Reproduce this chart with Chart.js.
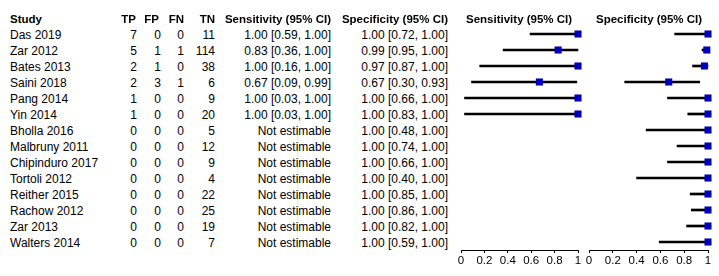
<!DOCTYPE html>
<html>
<head>
<meta charset="utf-8">
<script src="https://cdn.jsdelivr.net/npm/chart.js@4"></script>
<style>
  body { margin: 0; background: #fff; }
  #wrap { position: relative; width: 719px; height: 276px; overflow: hidden; background: #fff;
          font-family: 'Liberation Sans', Arial, sans-serif; color: #000; }
  .t { position: absolute; font-size: 12px; line-height: 16px; white-space: nowrap; }
  .h { font-weight: bold; font-size: 11.5px; }
  .r { text-align: right; }
  canvas { position: absolute; top: 0; }
</style>
</head>
<body>
<div id="wrap">
  <canvas id="sensChart" width="140" height="276" style="left:450px"></canvas>
  <canvas id="specChart" width="141" height="276" style="left:578px"></canvas>
</div>
<script>
// ---- data ----
const studies = ['Das 2019', 'Zar 2012', 'Bates 2013', 'Saini 2018', 'Pang 2014', 'Yin 2014',
  'Bholla 2016', 'Malbruny 2011', 'Chipinduro 2017', 'Tortoli 2012', 'Reither 2015',
  'Rachow 2012', 'Zar 2013', 'Walters 2014'];
const tp = [7, 5, 2, 2, 1, 1, 0, 0, 0, 0, 0, 0, 0, 0];
const fp = [0, 1, 1, 3, 0, 0, 0, 0, 0, 0, 0, 0, 0, 0];
const fn = [0, 1, 0, 1, 0, 0, 0, 0, 0, 0, 0, 0, 0, 0];
const tn = [11, 114, 38, 6, 9, 20, 5, 12, 9, 4, 22, 25, 19, 7];

const sens   = [1.00, 0.83, 1.00, 0.67, 1.00, 1.00, null, null, null, null, null, null, null, null];
const sensLo = [0.59, 0.36, 0.16, 0.09, 0.03, 0.03, null, null, null, null, null, null, null, null];
const sensHi = [1.00, 1.00, 1.00, 0.99, 1.00, 1.00, null, null, null, null, null, null, null, null];

const spec   = [1.00, 0.99, 0.97, 0.67, 1.00, 1.00, 1.00, 1.00, 1.00, 1.00, 1.00, 1.00, 1.00, 1.00];
const specLo = [0.72, 0.95, 0.87, 0.30, 0.66, 0.83, 0.48, 0.74, 0.66, 0.40, 0.85, 0.86, 0.82, 0.59];
const specHi = [1.00, 1.00, 1.00, 0.93, 1.00, 1.00, 1.00, 1.00, 1.00, 1.00, 1.00, 1.00, 1.00, 1.00];

const xTicks = ['0', '0.2', '0.4', '0.6', '0.8', '1'];

// ---- text table ----
const wrap = document.getElementById('wrap');
function addText(txt, cls, top, left, right) {
  const d = document.createElement('div');
  d.className = 't ' + cls;
  d.textContent = txt;
  d.style.top = top + 'px';
  if (right != null) { d.style.left = '0px'; d.style.width = right + 'px'; }
  else d.style.left = left + 'px';
  wrap.appendChild(d);
}
const fmtCI = (v, lo, hi) => v == null ? 'Not estimable'
  : v.toFixed(2) + ' [' + lo.toFixed(2) + ', ' + hi.toFixed(2) + ']';

addText('Study', 'h', 11, 10);
addText('TP', 'h r', 11, null, 136);
addText('FP', 'h r', 11, null, 159);
addText('FN', 'h r', 11, null, 184);
addText('TN', 'h r', 11, null, 215);
addText('Sensitivity (95% CI)', 'h r', 11, null, 331);
addText('Specificity (95% CI)', 'h r', 11, null, 448);
addText('Sensitivity (95% CI)', 'h', 11, 466);
addText('Specificity (95% CI)', 'h', 11, 596);

studies.forEach((s, i) => {
  const top = 27 + 16 * i;
  addText(s, '', top, 10);
  addText(String(tp[i]), 'r', top, null, 137);
  addText(String(fp[i]), 'r', top, null, 161);
  addText(String(fn[i]), 'r', top, null, 184);
  addText(String(tn[i]), 'r', top, null, 215);
  addText(fmtCI(sens[i], sensLo[i], sensHi[i]), 'r', top, null, 331);
  addText(fmtCI(spec[i], specLo[i], specHi[i]), 'r', top, null, 448);
});

// ---- forest plots ----
function forest(id, est, lo, hi, padRight) {
  const points = [];
  est.forEach((v, i) => { if (v != null) points.push({ x: v, y: i }); });
  const bars = lo.map((l, i) => l == null ? null : [l, hi[i]]);
  return new Chart(document.getElementById(id), {
    type: 'bar',
    data: {
      labels: studies,
      datasets: [
        {
          type: 'line', data: points, showLine: false, clip: false,
          pointStyle: 'rect', pointRadius: 5, pointHoverRadius: 5,
          pointBackgroundColor: '#0000bb', pointBorderColor: '#0000bb', pointBorderWidth: 0
        },
        {
          data: bars, backgroundColor: '#000', borderWidth: 0,
          barThickness: 2, borderSkipped: false, clip: false
        }
      ]
    },
    options: {
      indexAxis: 'y',
      responsive: false,
      animation: false,
      devicePixelRatio: 1,
      layout: { padding: { left: 11, right: padRight, top: 26, bottom: 0 } },
      plugins: { legend: { display: false }, tooltip: { enabled: false } },
      events: [],
      scales: {
        y: { type: 'category', display: false, offset: true },
        x: {
          type: 'linear', min: 0, max: 1,
          afterFit: s => { s.height = 26; },
          border: { display: true, color: '#000', width: 1 },
          grid: { drawOnChartArea: false, drawTicks: true, tickLength: 3, color: '#000' },
          ticks: {
            stepSize: 0.2, padding: 1, color: '#000', maxRotation: 0, autoSkip: false,
            font: { family: "'Liberation Sans', Arial, sans-serif", size: 11.5 },
            callback: (v, i) => xTicks[i]
          }
        }
      }
    }
  });
}

forest('sensChart', sens, sensLo, sensHi, 12);
forest('specChart', spec, specLo, specHi, 11);
</script>
</body>
</html>
